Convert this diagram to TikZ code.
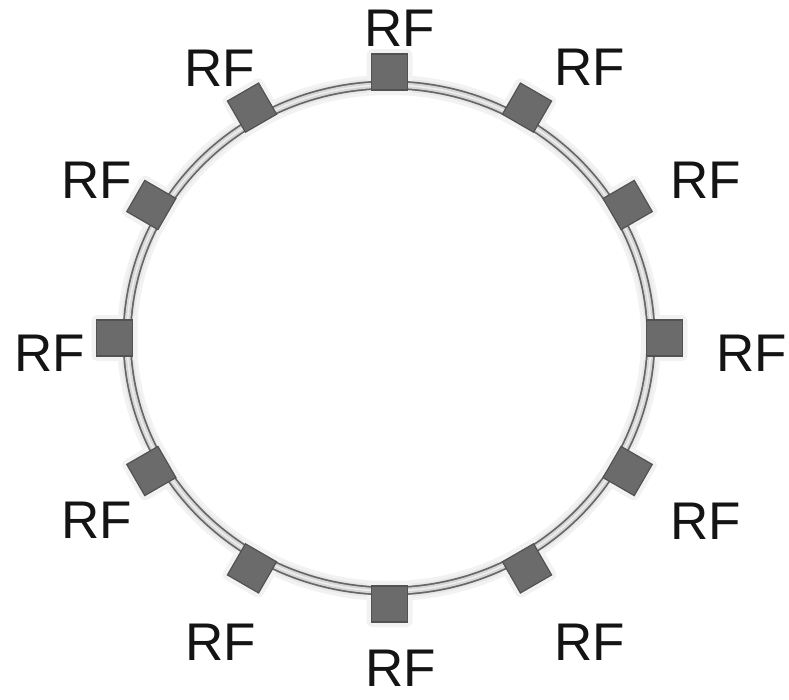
\documentclass[tikz,border=0pt]{standalone}
\usepackage{fontspec}
\setmainfont{Liberation Sans}
\begin{document}
\begin{tikzpicture}[x=1pt,y=-1pt,
  rf/.style={font=\fontsize{53}{53}\selectfont, text=black!92, inner sep=0pt, anchor=center},
  unit/.style={draw=black!68, line width=1.2pt, fill=black!58, minimum size=36pt, inner sep=0pt},
  glow/.style={fill=black!5, minimum size=46pt, inner sep=0pt, rounded corners=6pt}]
\useasboundingbox (0,0) rectangle (789,699);
\coordinate (c) at (389,338);
% faint glow round the ring
\draw[black!5, line width=20pt] (c) ellipse [x radius=262pt, y radius=253pt];
\draw[black!9, line width=13pt] (c) ellipse [x radius=262pt, y radius=253pt];
% glow round the units
\foreach \a in {0,30,...,330}
  \node[glow, rotate=\a] at ({389.5+275*cos(\a)}, {338-266*sin(\a)}) {};
% ring: dark rims with a light core
\draw[black!60, line width=9pt] (c) ellipse [x radius=262pt, y radius=253pt];
\draw[black!16, line width=5.5pt] (c) ellipse [x radius=262pt, y radius=253pt];
\draw[white, line width=1.5pt, opacity=0.6] (c) ellipse [x radius=262pt, y radius=253pt];
% units
\foreach \a in {0,30,...,330}
  \node[unit, rotate=\a] (s\a) at ({389.5+275*cos(\a)}, {338-266*sin(\a)}) {};
% labels
\node[rf] (l90)  at (400,28)  {RF};
\node[rf] (l60)  at (590,67)  {RF};
\node[rf] (l30)  at (706,180) {RF};
\node[rf] (l0)   at (752,353) {RF};
\node[rf] (l330) at (706,521) {RF};
\node[rf] (l300) at (590,642) {RF};
\node[rf] (l270) at (401,668) {RF};
\node[rf] (l240) at (221,642) {RF};
\node[rf] (l210) at (97,520)  {RF};
\node[rf] (l180) at (50,353)  {RF};
\node[rf] (l150) at (97,180)  {RF};
\node[rf] (l120) at (220,68)  {RF};
\end{tikzpicture}
\end{document}
